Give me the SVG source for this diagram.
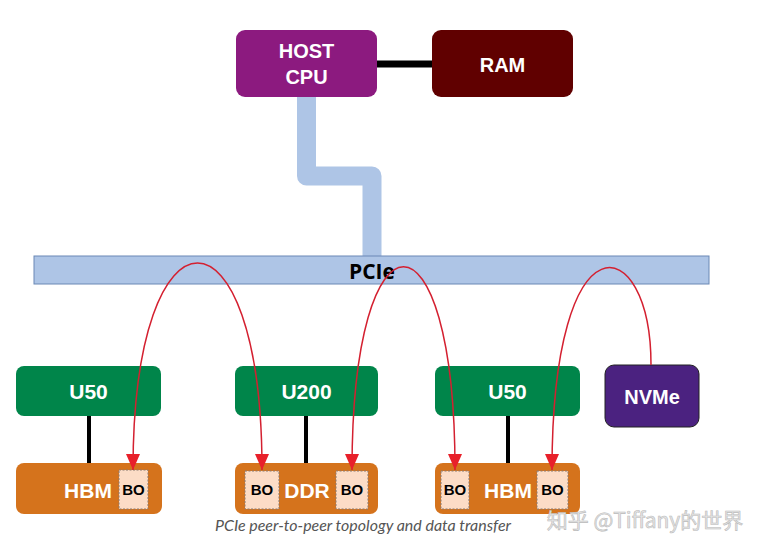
<svg xmlns="http://www.w3.org/2000/svg" width="770" height="554" viewBox="0 0 770 554">
<defs>
<style>
.lbl{font-family:"Liberation Sans",Arial,sans-serif;font-weight:bold;fill:#fff;text-anchor:middle}
.bo{font-family:"Liberation Sans",Arial,sans-serif;font-weight:bold;fill:#000;font-size:15px;text-anchor:middle}
.bobox{fill:#FCDCC6;stroke:#8a7a70;stroke-width:1;stroke-dasharray:2 1.5}
.green{fill:#00854A}
.orange{fill:#D5731C}
.wire{stroke:#000;stroke-width:4;fill:none}
.arc{stroke:#D42030;stroke-width:1.5;fill:none}
</style>
<marker id="ah" viewBox="0 0 16 14" refX="16" refY="7" markerWidth="16" markerHeight="14" markerUnits="userSpaceOnUse" orient="auto-start-reverse">
<path d="M0,0 L16,7 L0,14 z" fill="#E8202A"/>
</marker>
</defs>
<rect width="770" height="554" fill="#fff"/>
<g id="connectors">
<line class="wire" x1="377" y1="64" x2="432" y2="64" style="stroke-width:7"/>
<path d="M306.5,97 V176 H372 V257" fill="none" stroke="#AEC5E6" stroke-width="19" stroke-linejoin="round"/>
<line class="wire" x1="89" y1="416" x2="89" y2="463"/>
<line class="wire" x1="306" y1="416" x2="306" y2="463"/>
<line class="wire" x1="508" y1="416" x2="508" y2="463"/>
</g>
<g id="pcie">
<rect x="34" y="256" width="675" height="28" fill="#AEC5E6" stroke="#6A88B5" stroke-width="1"/>
<text x="372" y="279" font-family="'Open Sans','Liberation Sans',sans-serif" font-weight="bold" font-size="21" text-anchor="middle" fill="#000">PCIe</text>
</g>
<g id="host-cpu">
<rect x="236" y="30" width="141" height="67" rx="9" fill="#8C1A7F"/>
<text class="lbl" x="306.5" y="58" font-size="20">HOST</text>
<text class="lbl" x="306.5" y="84" font-size="20">CPU</text>
</g>
<g id="ram">
<rect x="432" y="30" width="141" height="67" rx="9" fill="#600000"/>
<text class="lbl" x="502.5" y="72" font-size="20">RAM</text>
</g>
<g id="u50-left">
<rect class="green" x="16" y="366" width="145" height="50" rx="8"/>
<text class="lbl" x="88.5" y="399" font-size="21">U50</text>
</g>
<g id="u200">
<rect class="green" x="235" y="366" width="143" height="50" rx="8"/>
<text class="lbl" x="306.5" y="399" font-size="21">U200</text>
</g>
<g id="u50-right">
<rect class="green" x="435" y="366" width="145" height="50" rx="8"/>
<text class="lbl" x="507.5" y="399" font-size="21">U50</text>
</g>
<g id="nvme">
<rect x="605" y="365" width="94" height="62" rx="9" fill="#4B2280" stroke="#222" stroke-width="1"/>
<text class="lbl" x="652" y="404" font-size="20">NVMe</text>
</g>
<g id="hbm-left">
<rect class="orange" x="16" y="463" width="146" height="51" rx="8"/>
<text class="lbl" x="88" y="498" font-size="21">HBM</text>
<rect class="bobox" x="119" y="470" width="29" height="39"/>
<text class="bo" x="133.5" y="495">BO</text>
</g>
<g id="ddr">
<rect class="orange" x="235" y="463" width="143" height="51" rx="8"/>
<text class="lbl" x="307" y="498" font-size="21">DDR</text>
<rect class="bobox" x="245" y="471" width="34" height="38"/>
<text class="bo" x="262" y="495">BO</text>
<rect class="bobox" x="336" y="471" width="32" height="38"/>
<text class="bo" x="352" y="495">BO</text>
</g>
<g id="hbm-right">
<rect class="orange" x="435" y="463" width="145" height="51" rx="8"/>
<text class="lbl" x="508" y="498" font-size="21">HBM</text>
<rect class="bobox" x="441" y="471" width="28" height="38"/>
<text class="bo" x="455" y="495">BO</text>
<rect class="bobox" x="537" y="471" width="31" height="38"/>
<text class="bo" x="552.5" y="495">BO</text>
</g>
<g id="transfers">
<path class="arc" d="M133,470 C133,194 262,194 262,470" marker-start="url(#ah)" marker-end="url(#ah)"/>
<path class="arc" d="M352,470 C352,199 455,199 455,470" marker-start="url(#ah)" marker-end="url(#ah)"/>
<path class="arc" d="M651,365 C651,230 552,210 552,470" marker-end="url(#ah)"/>
</g>
<text x="215" y="531" textLength="296" lengthAdjust="spacingAndGlyphs" font-family="Lato,'Open Sans',sans-serif" font-style="italic" font-size="15.5" fill="#555">PCIe peer-to-peer topology and data transfer</text>
<text x="645" y="528" font-family="'Noto Sans CJK SC','Noto Sans',sans-serif" font-size="21" fill="#e6e6e6" stroke="#bbb" stroke-width="0.6" text-anchor="middle">知乎 @Tiffany的世界</text>
</svg>
